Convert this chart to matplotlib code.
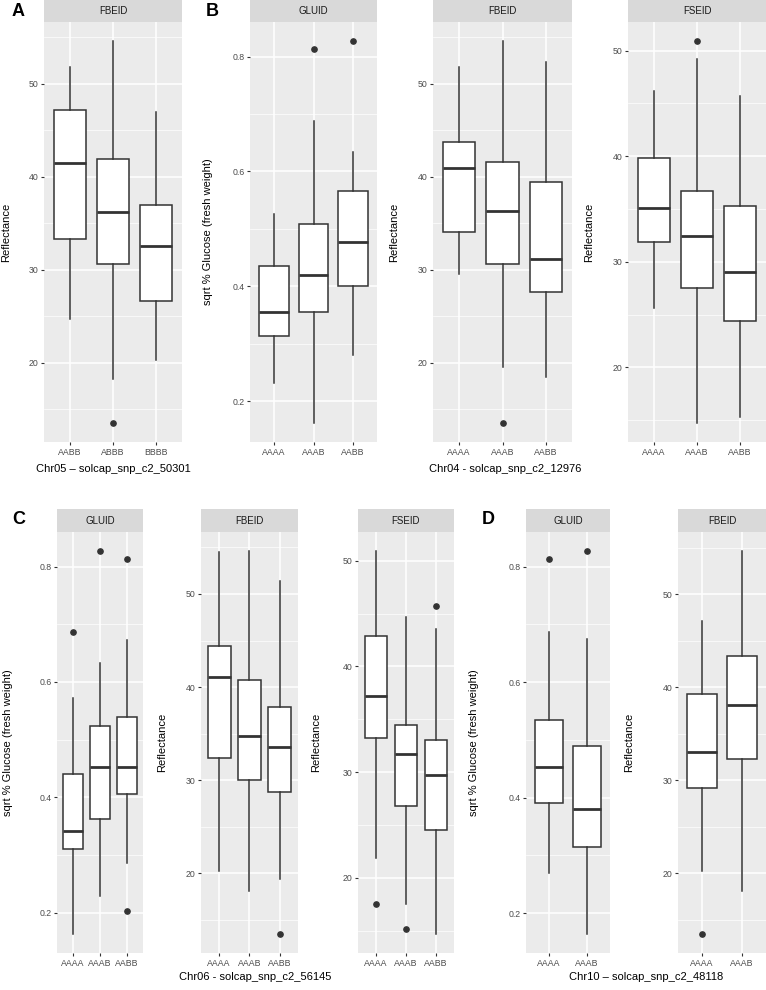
import matplotlib
matplotlib.use("Agg")
import matplotlib.pyplot as plt
from matplotlib.ticker import FixedLocator

plt.rcParams['font.family'] = ['Liberation Sans', 'DejaVu Sans']

# ---------------- data ----------------
# Panel A : Chr05 - solcap_snp_c2_50301, FBEID
A_cats = ["AABB", "ABBB", "BBBB"]
A_fbeid_lo = [24.7, 18.2, 20.3]
A_fbeid_q1 = [33.3, 30.6, 26.6]
A_fbeid_med = [41.5, 36.2, 32.5]
A_fbeid_q3 = [47.2, 41.9, 37.0]
A_fbeid_hi = [51.8, 54.6, 47.0]
A_fbeid_out = [[], [13.5], []]

# Panel B : Chr04 - solcap_snp_c2_12976
B_cats = ["AAAA", "AAAB", "AABB"]
B_gluid_lo = [0.232, 0.162, 0.281]
B_gluid_q1 = [0.314, 0.355, 0.401]
B_gluid_med = [0.355, 0.420, 0.477]
B_gluid_q3 = [0.435, 0.509, 0.566]
B_gluid_hi = [0.525, 0.687, 0.634]
B_gluid_out = [[], [0.813], [0.827]]

B_fbeid_lo = [29.5, 19.5, 18.4]
B_fbeid_q1 = [34.0, 30.6, 27.6]
B_fbeid_med = [40.9, 36.3, 31.1]
B_fbeid_q3 = [43.7, 41.6, 39.4]
B_fbeid_hi = [51.8, 54.6, 52.3]
B_fbeid_out = [[], [13.5], []]

B_fseid_lo = [25.6, 14.75, 15.3]
B_fseid_q1 = [31.9, 27.5, 24.4]
B_fseid_med = [35.05, 32.4, 29.0]
B_fseid_q3 = [39.8, 36.75, 35.3]
B_fseid_hi = [46.2, 49.2, 45.7]
B_fseid_out = [[], [50.9], []]

# Panel C : Chr06 - solcap_snp_c2_56145
C_cats = ["AAAA", "AAAB", "AABB"]
C_gluid_lo = [0.163, 0.229, 0.286]
C_gluid_q1 = [0.310, 0.363, 0.406]
C_gluid_med = [0.341, 0.453, 0.453]
C_gluid_q3 = [0.441, 0.524, 0.540]
C_gluid_hi = [0.572, 0.633, 0.673]
C_gluid_out = [[0.687], [0.827], [0.813, 0.202]]

C_fbeid_lo = [20.25, 18.1, 19.4]
C_fbeid_q1 = [32.4, 30.0, 28.7]
C_fbeid_med = [41.1, 34.7, 33.6]
C_fbeid_q3 = [44.4, 40.75, 37.9]
C_fbeid_hi = [54.5, 54.6, 51.4]
C_fbeid_out = [[], [], [13.5]]

C_fseid_lo = [21.9, 17.5, 14.7]
C_fseid_q1 = [33.2, 26.8, 24.5]
C_fseid_med = [37.2, 31.7, 29.7]
C_fseid_q3 = [42.9, 34.5, 33.0]
C_fseid_hi = [50.9, 44.7, 43.5]
C_fseid_out = [[17.5], [15.2], [45.7]]

# Panel D : Chr10 - solcap_snp_c2_48118
D_cats = ["AAAA", "AAAB"]
D_gluid_lo = [0.270, 0.164]
D_gluid_q1 = [0.391, 0.315]
D_gluid_med = [0.453, 0.381]
D_gluid_q3 = [0.535, 0.489]
D_gluid_hi = [0.687, 0.675]
D_gluid_out = [[0.813], [0.827]]

D_fbeid_lo = [20.25, 18.1]
D_fbeid_q1 = [29.2, 32.3]
D_fbeid_med = [33.05, 38.1]
D_fbeid_q3 = [39.3, 43.4]
D_fbeid_hi = [47.1, 54.65]
D_fbeid_out = [[13.5], []]

GLU_LABEL = "sqrt % Glucose (fresh weight)"
REF_LABEL = "Reflectance"

# ---------------- layout ----------------
W, H = 766, 990
fig = plt.figure(figsize=(W / 100, H / 100), dpi=100)
fig.patch.set_facecolor("white")

def fx(px):
    return px / W

def fy(py):
    return 1 - py / H

GRID_BG = "#EBEBEB"
STRIP_BG = "#D9D9D9"
DARK = "#333333"
TICKC = "#4D4D4D"
TITLE_FS = 8.0


def panel(x0, x1, ytop, ybot, strip_top, strip_text, cats, lo, q1, med, q3, hi, out,
          major, minor, fmt, ylabel, ylabel_x):
    ax = fig.add_axes([fx(x0), fy(ybot), fx(x1 - x0), (ybot - ytop) / H])
    ax.set_facecolor(GRID_BG)
    for s in ax.spines.values():
        s.set_visible(False)
    n = len(cats)
    stats = []
    for i in range(n):
        stats.append(dict(med=med[i], q1=q1[i], q3=q3[i], whislo=lo[i],
                          whishi=hi[i], fliers=out[i], label=cats[i]))
    pos = list(range(1, n + 1))
    ax.bxp(stats, positions=pos, widths=0.75, patch_artist=True, showcaps=False,
           boxprops=dict(facecolor="white", edgecolor=DARK, linewidth=1.1),
           medianprops=dict(color=DARK, linewidth=2.0),
           whiskerprops=dict(color=DARK, linewidth=1.1),
           flierprops=dict(marker="o", markerfacecolor=DARK, markeredgecolor=DARK,
                           markersize=3.8, linestyle="none"),
           zorder=3)
    # limits ggplot-style
    allv = list(lo) + list(hi) + [v for o in out for v in o]
    vmin, vmax = min(allv), max(allv)
    r = vmax - vmin
    ax.set_ylim(vmin - 0.05 * r, vmax + 0.05 * r)
    ax.set_xlim(0.4, n + 0.6)
    ax.set_xticks(pos)
    ax.set_xticklabels(cats)
    ax.yaxis.set_major_locator(FixedLocator(major))
    ax.yaxis.set_minor_locator(FixedLocator(minor))
    ax.set_yticklabels([fmt.format(v) for v in major])
    ax.grid(which="major", color="white", linewidth=1.1, zorder=0)
    ax.grid(which="minor", axis="y", color="white", linewidth=0.5, zorder=0)
    ax.set_axisbelow(True)
    ax.tick_params(axis="both", which="major", direction="out", length=2.5,
                   width=0.8, color=DARK, labelcolor=TICKC, labelsize=6.3, pad=1.5)
    ax.tick_params(axis="y", which="minor", length=0)
    # strip
    sax = fig.add_axes([fx(x0), fy(ytop), fx(x1 - x0), (ytop - strip_top) / H])
    sax.set_facecolor(STRIP_BG)
    sax.set_xticks([])
    sax.set_yticks([])
    for s in sax.spines.values():
        s.set_visible(False)
    sax.text(0.5, 0.5, strip_text, ha="center", va="center", fontsize=7,
             color="#1A1A1A", transform=sax.transAxes)
    # y label
    fig.text(fx(ylabel_x), fy((ytop + ybot) / 2), ylabel, rotation=90,
             ha="center", va="center", fontsize=TITLE_FS, color="black")
    return ax


ref_major = [20, 30, 40, 50]
ref_minor = [15, 25, 35, 45, 55]
glu_major = [0.2, 0.4, 0.6, 0.8]
glu_minor = [0.3, 0.5, 0.7]

# top row
T_STRIP, T_TOP, T_BOT = 0, 22, 442
panel(44, 182, T_TOP, T_BOT, T_STRIP, "FBEID", A_cats, A_fbeid_lo, A_fbeid_q1,
      A_fbeid_med, A_fbeid_q3, A_fbeid_hi, A_fbeid_out, ref_major, ref_minor,
      "{:.0f}", REF_LABEL, 6)
panel(250, 377, T_TOP, T_BOT, T_STRIP, "GLUID", B_cats, B_gluid_lo, B_gluid_q1,
      B_gluid_med, B_gluid_q3, B_gluid_hi, B_gluid_out, glu_major, glu_minor,
      "{:.1f}", GLU_LABEL, 208)
panel(433, 572, T_TOP, T_BOT, T_STRIP, "FBEID", B_cats, B_fbeid_lo, B_fbeid_q1,
      B_fbeid_med, B_fbeid_q3, B_fbeid_hi, B_fbeid_out, ref_major, ref_minor,
      "{:.0f}", REF_LABEL, 394)
panel(628, 766, T_TOP, T_BOT, T_STRIP, "FSEID", B_cats, B_fseid_lo, B_fseid_q1,
      B_fseid_med, B_fseid_q3, B_fseid_hi, B_fseid_out, ref_major, ref_minor,
      "{:.0f}", REF_LABEL, 589)

# bottom row
L_STRIP, L_TOP, L_BOT = 509, 532, 953
panel(57, 143, L_TOP, L_BOT, L_STRIP, "GLUID", C_cats, C_gluid_lo, C_gluid_q1,
      C_gluid_med, C_gluid_q3, C_gluid_hi, C_gluid_out, glu_major, glu_minor,
      "{:.1f}", GLU_LABEL, 8)
panel(201, 298, L_TOP, L_BOT, L_STRIP, "FBEID", C_cats, C_fbeid_lo, C_fbeid_q1,
      C_fbeid_med, C_fbeid_q3, C_fbeid_hi, C_fbeid_out, ref_major, ref_minor,
      "{:.0f}", REF_LABEL, 162)
panel(358, 454, L_TOP, L_BOT, L_STRIP, "FSEID", C_cats, C_fseid_lo, C_fseid_q1,
      C_fseid_med, C_fseid_q3, C_fseid_hi, C_fseid_out, ref_major, ref_minor,
      "{:.0f}", REF_LABEL, 316)
panel(526, 610, L_TOP, L_BOT, L_STRIP, "GLUID", D_cats, D_gluid_lo, D_gluid_q1,
      D_gluid_med, D_gluid_q3, D_gluid_hi, D_gluid_out, glu_major, glu_minor,
      "{:.1f}", GLU_LABEL, 474)
panel(678, 766, L_TOP, L_BOT, L_STRIP, "FBEID", D_cats, D_fbeid_lo, D_fbeid_q1,
      D_fbeid_med, D_fbeid_q3, D_fbeid_hi, D_fbeid_out, ref_major, ref_minor,
      "{:.0f}", REF_LABEL, 629)

# x-axis titles
XL = dict(ha="center", va="center", fontsize=TITLE_FS, color="black")
fig.text(fx(113), fy(469), "Chr05 \u2013 solcap_snp_c2_50301", **XL)
fig.text(fx(505), fy(469), "Chr04 - solcap_snp_c2_12976", **XL)
fig.text(fx(255), fy(977), "Chr06 - solcap_snp_c2_56145", **XL)
fig.text(fx(646), fy(977), "Chr10 \u2013 solcap_snp_c2_48118", **XL)

# panel letters
PL = dict(ha="left", va="center", fontsize=13, fontweight="bold", color="black")
fig.text(fx(12), fy(12), "A", **PL)
fig.text(fx(206), fy(12), "B", **PL)
fig.text(fx(12), fy(519), "C", **PL)
fig.text(fx(482), fy(520), "D", **PL)

fig.savefig("out.png", dpi=100, facecolor="white")
